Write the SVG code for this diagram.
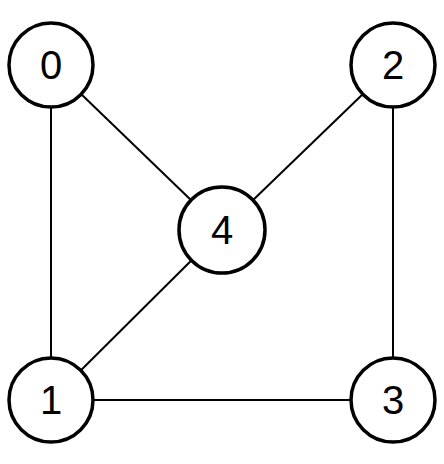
<svg xmlns="http://www.w3.org/2000/svg" width="444" height="464" viewBox="0 0 444 464">
<style>
.n{fill:#fff;stroke:#000;stroke-width:3.5}
.t{font-family:"Liberation Sans",Arial,sans-serif;font-size:40px;text-anchor:middle;fill:#000}
.e{stroke:#000;stroke-width:2;fill:none}
</style>
<rect width="444" height="464" fill="#fff"/>
<g id="edges">
<line class="e" x1="51" y1="65" x2="51" y2="400"/>
<line class="e" x1="51" y1="65" x2="222" y2="230"/>
<line class="e" x1="393" y1="65" x2="222" y2="230"/>
<line class="e" x1="222" y1="230" x2="51" y2="400"/>
<line class="e" x1="51" y1="400" x2="393" y2="400"/>
<line class="e" x1="393" y1="65" x2="393" y2="400"/>
</g>
<g id="node0"><circle class="n" cx="51" cy="65" r="42"/><text class="t" x="51" y="79">0</text></g>
<g id="node2"><circle class="n" cx="393" cy="65" r="42"/><text class="t" x="393" y="79">2</text></g>
<g id="node4"><circle class="n" cx="222" cy="230" r="43"/><text class="t" x="222" y="244">4</text></g>
<g id="node1"><circle class="n" cx="51" cy="400" r="42"/><text class="t" x="51" y="414">1</text></g>
<g id="node3"><circle class="n" cx="393" cy="400" r="42"/><text class="t" x="393" y="414">3</text></g>
</svg>
